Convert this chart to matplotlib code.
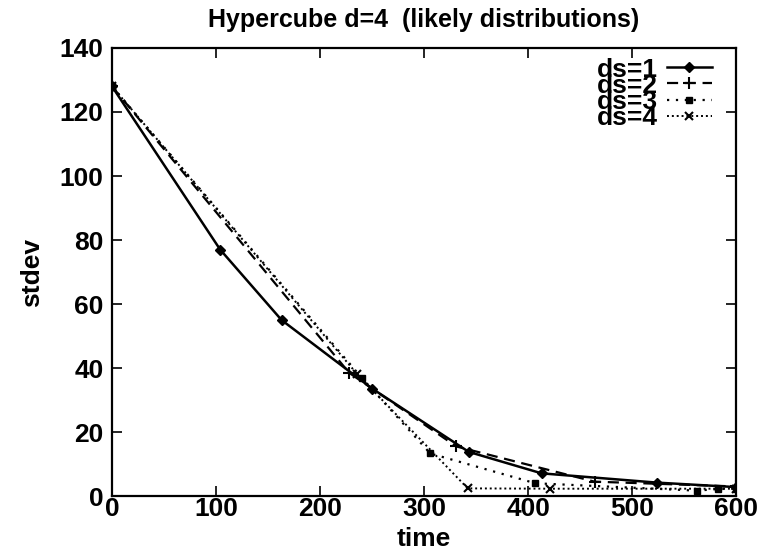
import matplotlib
matplotlib.use("Agg")
import matplotlib.pyplot as plt

plt.rcParams['font.family'] = ['Liberation Sans', 'DejaVu Sans']
plt.rcParams['font.weight'] = 'bold'

# stdev over time for each ds setting
t_ds1 = [0, 104, 163, 250, 343, 413, 524, 600]
s_ds1 = [128, 77, 55, 33.6, 13.8, 7.1, 4.2, 2.8]

t_ds2 = [0, 228, 331, 464, 600]
s_ds2 = [128, 38.5, 15.5, 4.5, 3.0]

t_ds3 = [0, 240, 306, 407, 562, 583, 600]
s_ds3 = [128, 37, 13.3, 4.0, 1.7, 2.2, 2.3]

t_ds4 = [0, 236, 342, 421, 600]
s_ds4 = [128, 38, 2.4, 2.3, 2.3]

labels = ["ds=1", "ds=2", "ds=3", "ds=4"]
x_ticks = [0, 100, 200, 300, 400, 500, 600]
y_ticks = [0, 20, 40, 60, 80, 100, 120, 140]

fig = plt.figure(figsize=(7.62, 5.58), dpi=100)
ax = fig.add_axes([0.147, 0.111, 0.819, 0.803])

ax.plot(t_ds1, s_ds1, color='black', lw=1.8, ls='-', marker='D', ms=5,
        label=labels[0])
ax.plot(t_ds2, s_ds2, color='black', lw=1.6, ls=(0, (5, 3)), marker='+',
        ms=9, mew=1.5, label=labels[1])
ax.plot(t_ds3, s_ds3, color='black', lw=1.6, ls=(0, (1, 3)), marker='s',
        ms=5, label=labels[2])
ax.plot(t_ds4, s_ds4, color='black', lw=1.4, ls=(0, (1, 1.5)), marker='x',
        ms=6, mew=1.5, label=labels[3])

ax.set_xlim(0, 600)
ax.set_ylim(0, 140)
ax.set_xticks(x_ticks)
ax.set_yticks(y_ticks)
ax.tick_params(direction='in', length=7, width=1.2, top=True, right=True,
               labelsize=19)
ax.tick_params(axis='x', pad=1)
ax.tick_params(axis='y', pad=6)
for lbl in ax.get_xticklabels() + ax.get_yticklabels():
    lbl.set_fontweight('bold')
for sp in ax.spines.values():
    sp.set_linewidth(1.6)

ax.set_title("Hypercube d=4  (likely distributions)", fontsize=18,
             fontweight='bold', pad=15)
ax.set_xlabel("time", fontsize=19, fontweight='bold', labelpad=4)
ax.set_ylabel("stdev", fontsize=19, fontweight='bold', labelpad=11)

leg = ax.legend(loc='upper right', frameon=False, markerfirst=False,
                numpoints=1, handlelength=1.7, handletextpad=0.35,
                labelspacing=-0.30, borderaxespad=0.0,
                bbox_to_anchor=(0.978, 1.002),
                prop={'weight': 'bold', 'size': 19})

fig.savefig("out.png", dpi=100)
